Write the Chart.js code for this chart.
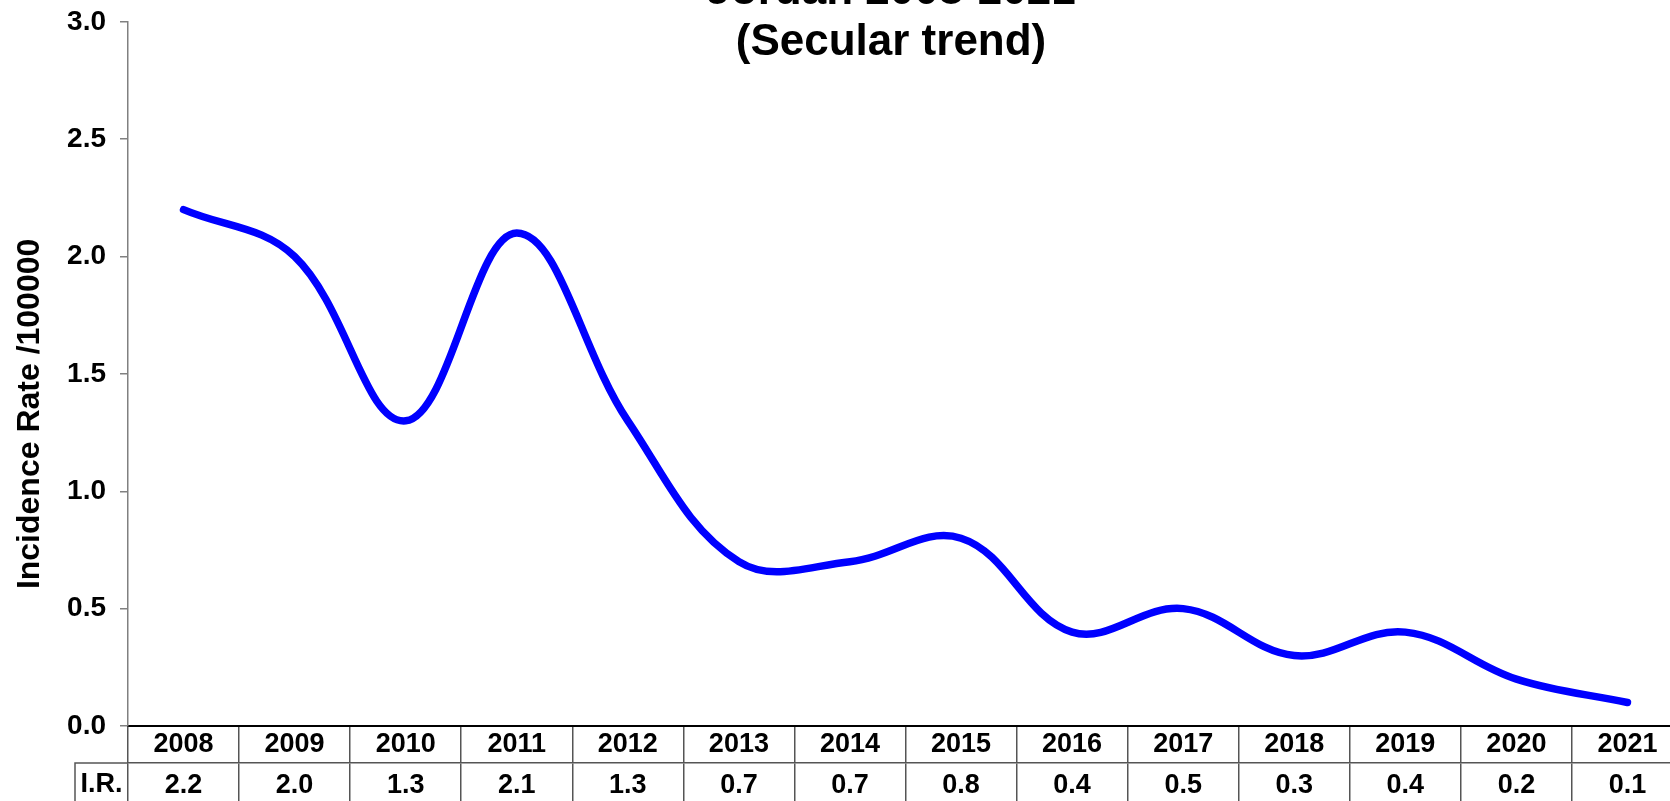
<!DOCTYPE html>
<html>
<head>
<meta charset="utf-8">
<script src="https://cdn.jsdelivr.net/npm/chart.js@4.4.1/dist/chart.umd.min.js"></script>
<style>
  html, body { margin: 0; padding: 0; background: #fff; overflow: hidden; }
  #trend { display: block; margin-top: -9px; }
</style>
</head>
<body>
<canvas id="trend" width="1782" height="812"></canvas>
<script>
// Incidence rate per 100000, Jordan 2008-2021
const years = ["2008", "2009", "2010", "2011", "2012", "2013", "2014",
               "2015", "2016", "2017", "2018", "2019", "2020", "2021"];
const rates = [2.2, 2.0, 1.3, 2.1, 1.3, 0.7, 0.7, 0.8, 0.4, 0.5, 0.3, 0.4, 0.2, 0.1];
const rateLabels = rates.map(v => v.toFixed(1));
const rowHeader = "I.R.";
const titleLines = ["Jordan 2008-2021", "(Secular trend)"];

const FONT = "'Liberation Sans', Arial, sans-serif";
const LINE_GREY = "#555555";

// the "I.R." cell left of the data row
const rowHeaderPlugin = {
  id: "rowHeaderCell",
  afterDraw(chart) {
    const s = chart.scales.x2;
    const ctx = chart.ctx;
    const left = 75;
    ctx.save();
    ctx.strokeStyle = LINE_GREY;
    ctx.lineWidth = 1.5;
    ctx.beginPath();
    ctx.moveTo(left, s.bottom);
    ctx.lineTo(left, s.top);
    ctx.lineTo(s.left, s.top);
    ctx.stroke();
    ctx.fillStyle = "#000";
    ctx.font = "bold 27px " + FONT;
    ctx.textAlign = "center";
    ctx.textBaseline = "middle";
    ctx.fillText(rowHeader, (left + s.left) / 2, s.top + 22);
    ctx.restore();
  }
};

Chart.defaults.font.family = FONT;
Chart.defaults.color = "#000";

const ctx = document.getElementById("trend").getContext("2d");
const trendChart = new Chart(ctx, {
  type: "line",
  data: {
    labels: years,
    datasets: [{
      label: "I.R.",
      data: rates,
      borderColor: "#0000FF",
      borderWidth: 7.5,
      borderCapStyle: "round",
      borderJoinStyle: "round",
      pointRadius: 0,
      tension: 0.38,
      fill: false,
      xAxisID: "x",
      yAxisID: "y"
    }]
  },
  options: {
    responsive: false,
    animation: false,
    devicePixelRatio: 1,
    layout: { padding: 0 },
    plugins: {
      legend: { display: false },
      tooltip: { enabled: false },
      title: {
        display: true,
        text: titleLines,
        color: "#000",
        font: { size: 44, weight: "bold", lineHeight: 51 / 44 },
        padding: { top: -34.5, bottom: -46.5 }
      }
    },
    scales: {
      x: {
        type: "category",
        position: "bottom",
        offset: true,
        grid: { offset: true, drawOnChartArea: false, tickLength: 37, color: LINE_GREY, lineWidth: 1.5 },
        border: { display: true, color: "#000", width: 2 },
        ticks: { font: { size: 27, weight: "bold" }, padding: -35, maxRotation: 0, autoSkip: false },
        afterFit(s) { s.height = 37; }
      },
      x2: {
        type: "category",
        position: "bottom",
        labels: rateLabels,
        offset: true,
        grid: { offset: true, drawOnChartArea: false, tickLength: 40, color: LINE_GREY, lineWidth: 1.5 },
        border: { display: true, color: LINE_GREY, width: 1.5 },
        ticks: { font: { size: 27, weight: "bold" }, padding: -34, maxRotation: 0, autoSkip: false },
        afterFit(s) { s.height = 40; }
      },
      y: {
        position: "left",
        min: 0,
        max: 3,
        ticks: {
          stepSize: 0.5,
          font: { size: 28, weight: "bold" },
          padding: 14,
          callback: v => v.toFixed(1)
        },
        grid: { drawOnChartArea: false, tickLength: 8, color: "#808080", lineWidth: 1.5 },
        border: { display: true, color: "#808080", width: 1.5 },
        title: {
          display: true,
          text: "Incidence Rate /100000         ",
          font: { size: 32, weight: "bold", lineHeight: 1.2 },
          padding: { top: 11, bottom: 0 }
        },
        afterFit(s) { s.width = 128; }
      },
      yPad: {
        type: "linear",
        position: "right",
        display: true,
        grid: { display: false },
        border: { display: false },
        ticks: { display: false },
        afterFit(s) { s.width = 99; }
      }
    }
  },
  plugins: [rowHeaderPlugin]
});
</script>
</body>
</html>
